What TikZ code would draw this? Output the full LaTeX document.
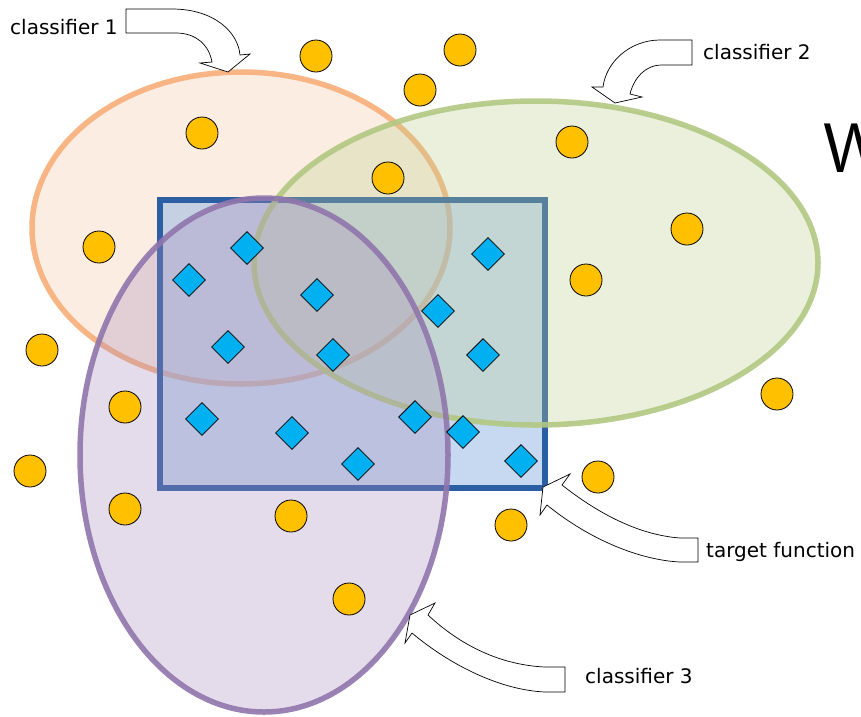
\documentclass[tikz,border=0pt]{standalone}
\usepackage{fontspec}
\usepackage{xcolor}
\usetikzlibrary{shapes.geometric}
\newfontfamily\labelfont{DejaVu Sans}
\definecolor{ornline}{HTML}{F8AE78}
\definecolor{ornfill}{HTML}{F7C6A2}
\definecolor{grnline}{HTML}{B2C882}
\definecolor{grnfill}{HTML}{BCD08E}
\definecolor{purline}{HTML}{9076AC}
\definecolor{purfill}{HTML}{A88CBC}
\definecolor{rectline}{HTML}{2C5EA4}
\definecolor{rectfill}{HTML}{91B5E4}
\definecolor{dotfill}{HTML}{FFC000}
\definecolor{dmdfill}{HTML}{00B0F0}

\begin{document}
\begin{tikzpicture}[x=1pt,y=-1pt,
    dot/.style={circle,draw=black,line width=0.8pt,fill=dotfill,minimum size=32pt,inner sep=0pt},
    dmd/.style={diamond,draw=black,line width=0.8pt,fill=dmdfill,minimum size=33pt,inner sep=0pt},
    region/.style={line width=5.5pt,fill opacity=0.3,draw opacity=0.9},
    blockarrow/.style={draw=black,fill=white,line width=0.7pt,line join=miter},
    lbl/.style={font=\labelfont\fontsize{20}{24}\selectfont,anchor=base west,inner sep=0pt}]
\useasboundingbox (0,0) rectangle (861,716);
\fill[white] (0,0) rectangle (861,716);
\draw[region,draw=ornline,fill=ornfill] (241,228) ellipse [x radius=209pt, y radius=156pt];
% target function box
\draw[rectline,line width=5.5pt,fill=rectfill,fill opacity=0.5] (160,200) rectangle (545,488);
\draw[region,draw=grnline,fill=grnfill] (536,263) ellipse [x radius=282pt, y radius=162pt];
\draw[region,draw=purline,fill=purfill] (264,455) ellipse [x radius=184pt, y radius=257pt];

% negatives
\foreach \n/\x/\y in {1/316/56, 2/460/50, 3/420/90, 4/202/133, 5/572/142, 6/388/178,
    7/687/229, 8/99/247, 9/586/280, 10/42/350, 11/777/394, 12/125/407, 13/30/471,
    14/598/477, 15/125/509, 16/291/516, 17/511/525, 18/349/599}
    \node[dot] (neg\n) at (\x,\y) {};
% positives
\foreach \n/\x/\y in {1/247/248, 2/189/280, 3/317/295, 4/488/254, 5/438/311, 6/228/347,
    7/333/355, 8/483/355, 9/202/419, 10/292/433, 11/415/417, 12/463/432, 13/358/464, 14/521/461}
    \node[dmd] (pos\n) at (\x,\y) {};

% labels
\node[lbl] (cls1) at (10,34) {classifier 1};
\node[lbl] (cls2) at (703,59) {classifier 2};
\node[lbl] (target) at (706,557) {target function};
\node[lbl] (cls3) at (585,683) {classifier 3};
\node[font=\sffamily\fontsize{70}{80}\selectfont,anchor=base west,inner sep=0pt] (bigw) at (823,172) {W};

% block arrows
\draw[blockarrow] (126,9) -- (172,9) .. controls (214,9) and (238,32) .. (240,55) -- (250,54) -- (228,72)
    -- (200,63) -- (212,62) .. controls (209,45) and (196,33) .. (176,33) -- (126,33) -- cycle;
\draw[blockarrow] (692,40) -- (660,40) .. controls (630,40) and (606,62) .. (603,87) -- (592,87) -- (615,103)
    -- (642,97) -- (630,94) .. controls (634,78) and (645,65) .. (662,65) -- (692,65) -- cycle;
\draw[blockarrow] (698,538) -- (680,538) .. controls (640,535) and (600,515) .. (562,485) -- (570,474) -- (543,487)
    -- (540,515) -- (547,505) .. controls (590,540) and (640,560) .. (680,562) -- (698,562) -- cycle;
\draw[blockarrow] (565,667) -- (545,667) .. controls (500,665) and (460,645) .. (428,615) -- (435,603) -- (410,615)
    -- (405,643) -- (412,633) .. controls (450,665) and (500,690) .. (545,692) -- (565,692) -- cycle;
\end{tikzpicture}
\end{document}
